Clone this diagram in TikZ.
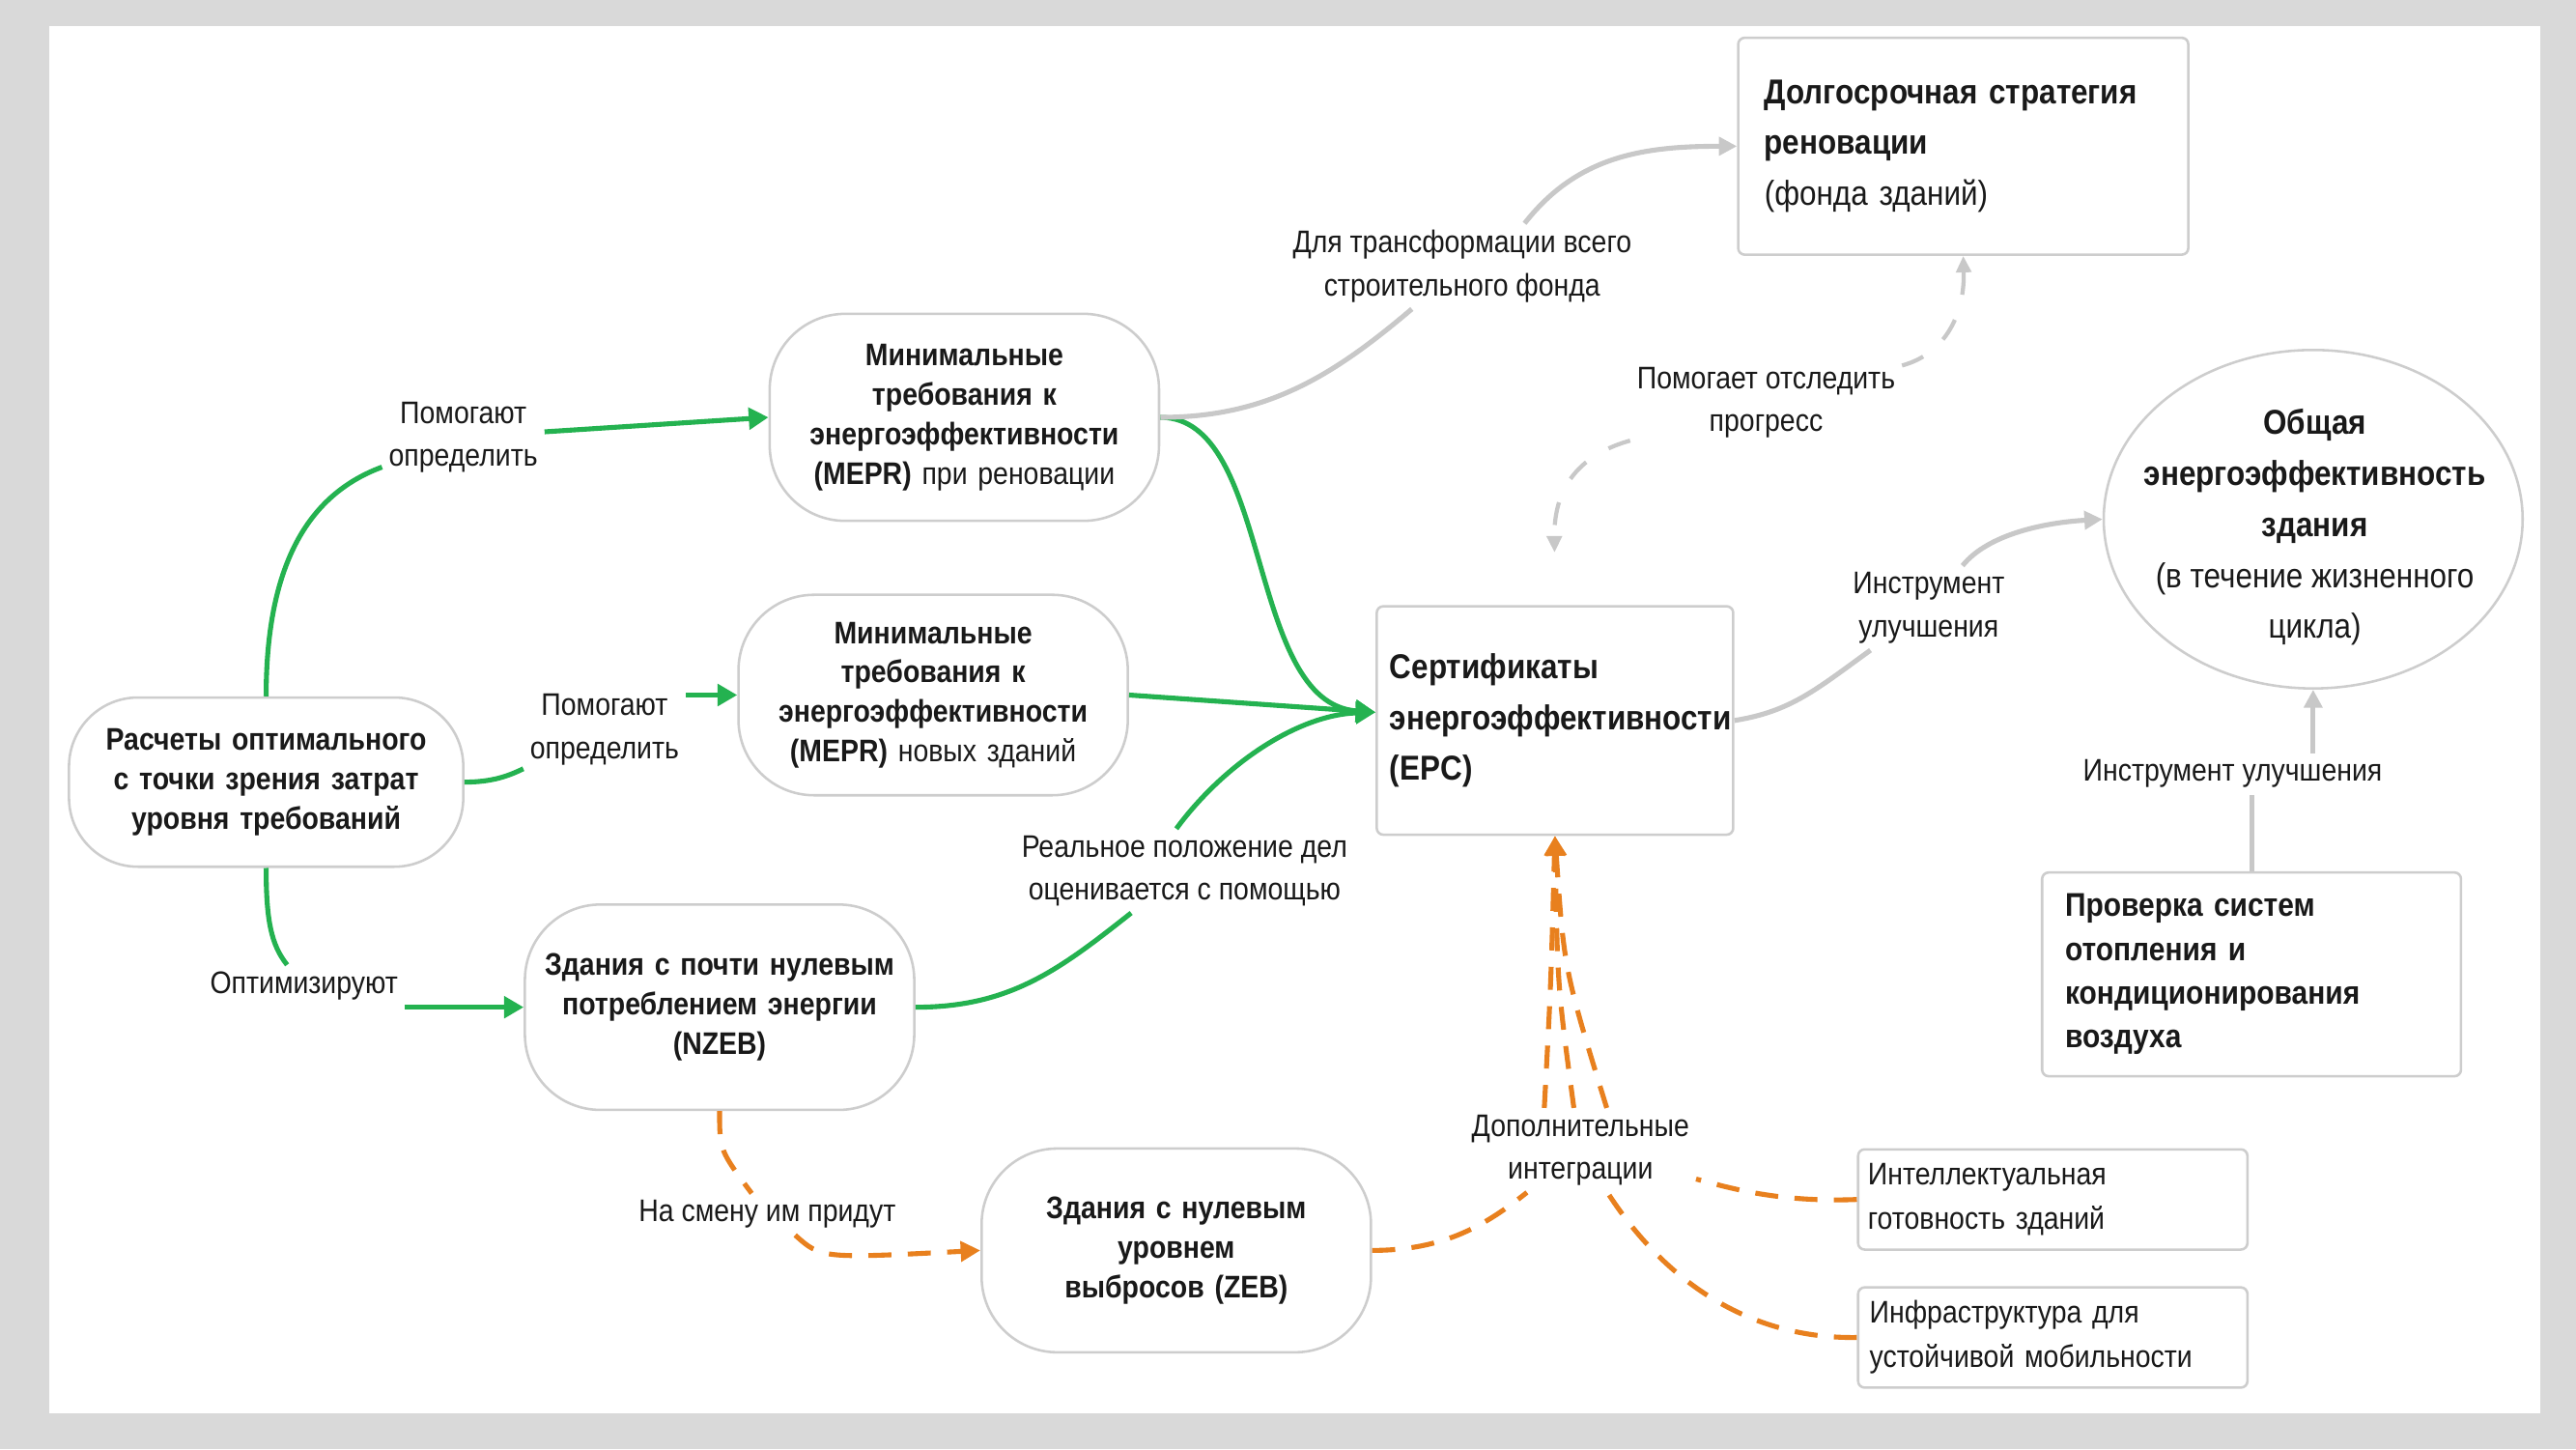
\documentclass[tikz,border=0pt]{standalone}
\usepackage{fontspec}
\setmainfont{Liberation Sans}[FakeStretch=0.88]
\usetikzlibrary{arrows.meta,shapes.geometric,calc}
\definecolor{bggray}{RGB}{217,217,217}
\definecolor{bordergray}{RGB}{205,205,205}
\definecolor{linegray}{RGB}{200,200,200}
\definecolor{mygreen}{RGB}{36,178,80}
\definecolor{myorange}{RGB}{232,128,30}
\definecolor{txt}{RGB}{25,25,25}
\tikzset{
  every node/.style={text=txt},
  stadium/.style={draw=bordergray, line width=1.5pt, fill=white, rounded corners=46pt,
    minimum width=237pt, minimum height=124pt, text width=215pt, align=center,
    font=\fontsize{19}{24}\selectfont},
  boxnode/.style={draw=bordergray, line width=1.5pt, fill=white, rounded corners=4pt,
    align=left, inner xsep=8pt},
  lbl/.style={align=center, inner sep=4pt, font=\fontsize{19}{26}\selectfont},
  garrow/.style={draw=mygreen, line width=3pt, -{Triangle[length=12pt,width=13pt]}},
  gline/.style={draw=mygreen, line width=3pt},
  grayarrow/.style={draw=linegray, line width=3pt, -{Triangle[length=11pt,width=11pt]}},
  grayline/.style={draw=linegray, line width=3pt},
  graydash/.style={draw=linegray, line width=2.5pt, dash pattern=on 14pt off 16pt, -{Triangle[length=10pt,width=9pt]}},
  orangedash/.style={draw=myorange, line width=3pt, dash pattern=on 14pt off 10pt},
  orangearrow/.style={orangedash, -{Triangle[length=12pt,width=12pt]}},
}
\begin{document}
\begin{tikzpicture}[x=1pt,y=-1pt]
% background frame
\fill[bggray] (0,0) rectangle (1568,882);
\fill[white] (30,16) rectangle (1546,860);
\useasboundingbox (0,0) rectangle (1568,882);

% ---------- nodes ----------
\node[stadium, minimum width=240pt, minimum height=103pt, rounded corners=42pt] (r) at (162,476)
  {\textbf{Расчеты оптимального}\\ \textbf{с точки зрения затрат}\\ \textbf{уровня требований}};
\node[stadium, minimum height=126pt] (m1) at (587,254)
  {\textbf{Минимальные}\\ \textbf{требования к}\\ \textbf{энергоэффективности}\\ \textbf{(MEPR)} при реновации};
\node[stadium, minimum height=122pt] (m2) at (568,423)
  {\textbf{Минимальные}\\ \textbf{требования к}\\ \textbf{энергоэффективности}\\ \textbf{(MEPR)} новых зданий};
\node[stadium, minimum height=125pt] (n) at (438,613)
  {\textbf{Здания с почти нулевым}\\ \textbf{потреблением энергии}\\ \textbf{(NZEB)}};
\node[stadium, minimum height=124pt] (z) at (716,761)
  {\textbf{Здания с нулевым}\\ \textbf{уровнем}\\ \textbf{выбросов (ZEB)}};
\node[boxnode, minimum width=217pt, minimum height=139pt, text width=201pt,
  font=\fontsize{21}{31}\selectfont\bfseries] (e) at (946.5,438.5)
  {Сертификаты\\ энергоэффективности\\ (EPC)};
\node[boxnode, minimum width=274pt, minimum height=132pt, text width=242pt,
  font=\fontsize{21}{31}\selectfont, inner xsep=16pt] (d) at (1195,89)
  {\textbf{Долгосрочная стратегия}\\ \textbf{реновации}\\ (фонда зданий)};
\node[ellipse, draw=bordergray, line width=1.5pt, fill=white, minimum width=255pt,
  minimum height=206pt, inner sep=0pt] (o) at (1408,316) {};
\node[align=center, inner sep=0pt, font=\fontsize{21}{31}\selectfont] (otxt) at (1409,321)
  {\textbf{Общая}\\ \textbf{энергоэффективность}\\ \textbf{здания}\\ (в течение жизненного\\ цикла)};
\node[boxnode, minimum width=255pt, minimum height=124pt, text width=227pt, inner xsep=14pt,
  font=\fontsize{20}{26.7}\selectfont\bfseries] (p) at (1370.5,593)
  {Проверка систем\\ отопления и\\ кондиционирования\\ воздуха};
\node[boxnode, minimum width=237pt, minimum height=61pt, text width=225pt, inner xsep=6pt,
  font=\fontsize{19}{27}\selectfont] (i) at (1249.5,730)
  {Интеллектуальная\\ готовность зданий};
\node[boxnode, minimum width=237pt, minimum height=61pt, text width=223pt, inner xsep=7pt,
  font=\fontsize{19}{27}\selectfont] (f) at (1249.5,814)
  {Инфраструктура для\\ устойчивой мобильности};

% ---------- labels ----------
\node[lbl] (l1) at (282,266) {Помогают\\ определить};
\node[lbl] (l2) at (368,444) {Помогают\\ определить};
\node[lbl] (l3) at (185,600) {Оптимизируют};
\node[lbl] (l4) at (721,530) {Реальное положение дел\\ оценивается с помощью};
\node[lbl] (l5) at (890,162) {Для трансформации всего\\ строительного фонда};
\node[lbl] (l6) at (1075,245) {Помогает отследить\\ прогресс};
\node[lbl] (l7) at (1174,370) {Инструмент\\ улучшения};
\node[lbl] (l8) at (1359,471) {Инструмент улучшения};
\node[lbl] (l9) at (467,739) {На смену им придут};
\node[lbl] (l10) at (962,700) {Дополнительные\\ интеграции};

\coordinate (ein) at ([yshift=5pt]e.west);

% ---------- green connectors ----------
\draw[gline] (r.north) .. controls (162,340) and (190,300) .. (l1);
\draw[garrow] (l1) -- (m1.west);
\draw[gline] (r.east) .. controls (300,476) and (310,472) .. (l2);
\draw[garrow] (l2.east |- m2.west) -- (m2.west);
\draw[gline] (r.south) .. controls (162,560) and (165,575) .. (l3);
\draw[garrow] (l3.east |- n.west) -- (n.west);
\draw[garrow] (m1.east) .. controls (775,254) and (758,428) .. (ein);
\draw[garrow] (m2.east) -- (ein);
\draw[gline] (n.east) .. controls (615,613) and (645,590) .. (l4);
\draw[garrow] ([xshift=-5pt]l4.north) .. controls (745,465) and (790,435) .. (ein);

% ---------- gray connectors ----------
\draw[grayline] (m1.east) .. controls (770,254) and (810,230) .. (l5);
\draw[grayarrow] ([xshift=38pt]l5.north) .. controls (960,95) and (1000,89) .. (d.west);
\draw[graydash] (l6) .. controls (1185,215) and (1196,190) .. (d.south);
\draw[graydash, shorten >=32pt] (l6) .. controls (950,280) and (946,310) .. (e.north);
\draw[grayline] (e.east) .. controls (1090,433) and (1105,420) .. (l7);
\draw[grayarrow] (l7) .. controls (1210,325) and (1245,318) .. (o.west);
\draw[grayline] (p.north) -- (l8.south -| p.north);
\draw[grayarrow] (l8.north -| o.south) -- (o.south);

% ---------- orange connectors ----------
\draw[orangedash] (n.south) .. controls (438,700) .. (l9);
\draw[orangearrow] ([xshift=17pt]l9.south) .. controls (500,766) .. (z.west);
\draw[orangedash] (z.east) .. controls (880,761) and (905,745) .. (l10);
\draw[orangedash] (i.west) .. controls (1080,732) and (1050,722) .. (l10);
\draw[orangedash] (f.west) .. controls (1060,815) and (1010,775) .. (l10);
\draw[orangearrow] ([xshift=-22pt]l10.north) .. controls (944,600) .. (e.south);
\draw[orangearrow] ([xshift=-4pt]l10.north) .. controls (948,600) .. (e.south);
\draw[orangearrow] ([xshift=16pt]l10.north) .. controls (952,590) .. (e.south);
\end{tikzpicture}
\end{document}
